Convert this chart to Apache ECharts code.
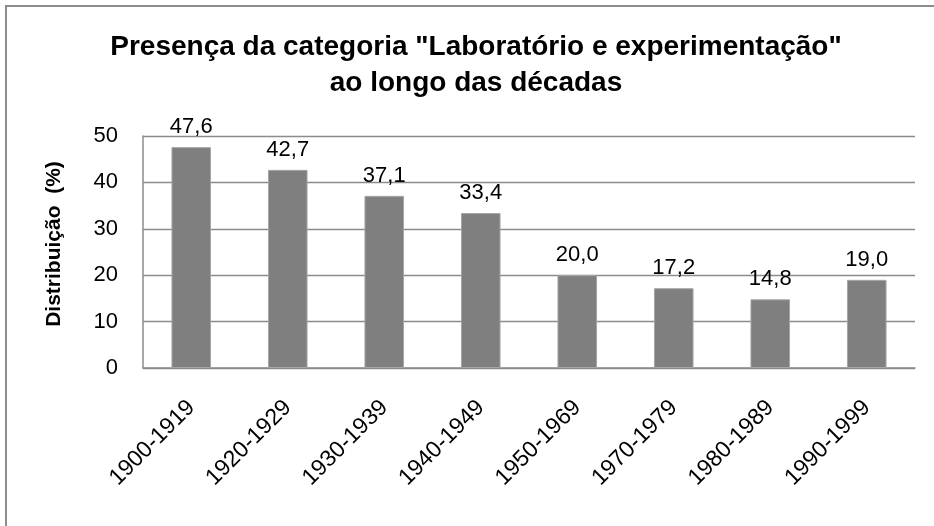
<!DOCTYPE html>
<html>
<head>
<meta charset="utf-8">
<script src="https://cdn.jsdelivr.net/npm/echarts@6/dist/echarts.min.js"></script>
<style>
  html, body { margin: 0; padding: 0; background: #ffffff; }
  #chart { width: 934px; height: 526px; }
</style>
</head>
<body>
<div id="chart"></div>
<script>
// Decades and share of the "Laboratório e experimentação" category (%)
const decades = ['1900-1919', '1920-1929', '1930-1939', '1940-1949', '1950-1969', '1970-1979', '1980-1989', '1990-1999'];
const shares = [47.6, 42.7, 37.1, 33.4, 20.0, 17.2, 14.8, 19.0];
const yTicks = [0, 10, 20, 30, 40, 50];

const FONT = "'Liberation Sans', Arial, sans-serif";
const chart = echarts.init(document.getElementById('chart'), null, { renderer: 'canvas' });

chart.setOption({
  backgroundColor: '#ffffff',
  animation: false,
  title: {
    text: 'Presença da categoria "Laboratório e experimentação"\nao longo das décadas',
    left: 471,
    textAlign: 'center',
    top: 24,
    textStyle: {
      fontFamily: FONT,
      fontSize: 28,
      fontWeight: 'bold',
      color: '#000000',
      lineHeight: 36
    }
  },
  graphic: [{
    type: 'rect',
    shape: { x: 6, y: 6, width: 960, height: 560 },
    style: { fill: 'none', stroke: '#8c8c8c', lineWidth: 2 },
    silent: true
  }],
  grid: { left: 143, right: 19, top: 136, bottom: 158 },
  xAxis: {
    type: 'category',
    data: decades,
    axisLine: { show: true, lineStyle: { color: '#8c8c8c', width: 1.5 } },
    axisTick: { show: false },
    axisLabel: {
      rotate: 45,
      margin: 36,
      fontFamily: FONT,
      fontSize: 23,
      color: '#000000',
      interval: 0
    }
  },
  yAxis: {
    type: 'value',
    min: yTicks[0],
    max: yTicks[yTicks.length - 1],
    interval: 10,
    name: 'Distribuição  (%)',
    nameLocation: 'middle',
    nameGap: 78,
    nameRotate: 90,
    nameTextStyle: {
      fontFamily: FONT,
      fontSize: 21,
      fontWeight: 'bold',
      color: '#000000',
      padding: [0, 0, 0, 16]
    },
    axisLine: { show: true, lineStyle: { color: '#8c8c8c', width: 1.5 } },
    axisTick: { show: false },
    splitLine: { lineStyle: { color: '#8c8c8c', width: 1.3 } },
    axisLabel: {
      margin: 25,
      fontFamily: FONT,
      fontSize: 22,
      color: '#000000'
    }
  },
  series: [{
    type: 'bar',
    data: shares,
    barWidth: '41%',
    itemStyle: { color: '#7f7f7f', borderColor: '#a6a6a6', borderWidth: 1 },
    label: {
      show: true,
      position: 'top',
      distance: 9,
      fontFamily: FONT,
      fontSize: 22,
      color: '#000000',
      formatter: p => p.value.toFixed(1).replace('.', ',')
    }
  }]
});
</script>
</body>
</html>
